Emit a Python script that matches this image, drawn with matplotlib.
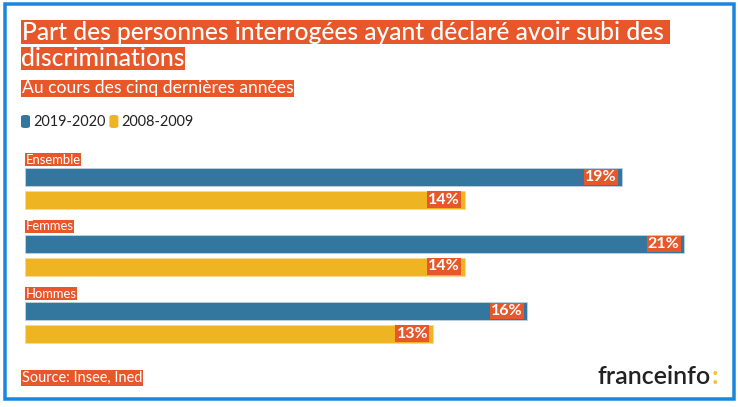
import matplotlib
matplotlib.use("Agg")
import matplotlib.pyplot as plt
from matplotlib.patches import Rectangle, FancyBboxPatch

plt.rcParams['font.family'] = ['Lato', 'DejaVu Sans']

categories = ["Ensemble", "Femmes", "Hommes"]
series_names = ["2019-2020", "2008-2009"]
values_2019 = [19, 21, 16]
values_2008 = [14, 14, 13]

title_lines = ["Part des personnes interrogées ayant déclaré avoir subi des ", "discriminations"]
subtitle = "Au cours des cinq dernières années"
source = "Source: Insee, Ined"

BLUE = "#33779F"
YELLOW = "#EFB421"
ORANGE = "#E8572A"
FRAME = "#1B86E0"

W, H = 738, 407
fig = plt.figure(figsize=(W / 100, H / 100), dpi=100)
renderer = fig.canvas.get_renderer()


def fx(x):
    return x / W


def fy(y):
    return 1 - y / H


def pt(px):
    return px * 72 / 100


# frame
fig.patches.append(Rectangle((fx(4.5), fy(399)), 729 / W, 395.5 / H,
                             transform=fig.transFigure, fill=False,
                             edgecolor=FRAME, linewidth=pt(3.5)))

# title / subtitle, each line with its own box
for k, line in enumerate(title_lines):
    fig.text(fx(21.5), fy(32 + 26.5 * k), line, color="white", fontsize=pt(24.6), va="center",
             ha="left", fontweight="medium",
             bbox=dict(facecolor=ORANGE, edgecolor="none", pad=0.4))
fig.text(fx(21.5), fy(88.5), subtitle, color="white", fontsize=pt(17.5), va="center", ha="left",
         bbox=dict(facecolor=ORANGE, edgecolor="none", pad=0.5))

# legend
lx = 21
for name, col in zip(series_names, [BLUE, YELLOW]):
    fig.patches.append(FancyBboxPatch((fx(lx), fy(128)), 9 / W, 13 / H,
                                      boxstyle="round,pad=0.0,rounding_size=0.005",
                                      transform=fig.transFigure, facecolor=col,
                                      edgecolor="none"))
    t = fig.text(fx(lx + 12), fy(121.5), name, fontsize=pt(14.5), va="center", ha="left",
                 color="#222222")
    bb = t.get_window_extent(renderer)
    lx = bb.x1 + 4

# bars
ax = fig.add_axes([fx(25), fy(350), 690 / W, 200 / H])
ax.set_xlim(0, 690 / 31.4)
ax.set_ylim(350, 150)
ax.axis("off")

bar_h = 18
for i, cat in enumerate(categories):
    yb = 177 + 67 * i
    yy = yb + 22.5
    ax.barh(yb, values_2019[i], height=bar_h, color=BLUE, edgecolor="#BFD3E0", linewidth=0.6)
    ax.barh(yy, values_2008[i], height=bar_h, color=YELLOW, edgecolor="#F6DB95", linewidth=0.6)
    ax.text(0.02, yb - bar_h / 2 - 2.5, cat, color="white", fontsize=pt(13), ha="left",
            va="bottom", bbox=dict(facecolor=ORANGE, edgecolor="none", pad=0.5))
    for v, y in [(values_2019[i], yb), (values_2008[i], yy)]:
        ax.annotate(f"{v}%", (v, y), xytext=(-5, 0), textcoords="offset pixels",
                    ha="right", va="center", color="white", fontsize=pt(16),
                    fontweight="bold",
                    bbox=dict(facecolor=ORANGE, edgecolor="none", pad=0.8))

# source
fig.text(fx(22), fy(378), source, color="white", fontsize=pt(14.5), va="center", ha="left",
         bbox=dict(facecolor=ORANGE, edgecolor="none", pad=0.6))

# logo
fig.text(fx(711), fy(376), "franceinfo", color="#222222", fontsize=pt(25),
         fontweight="semibold", ha="right", va="center")
fig.text(fx(712), fy(376), ":", color="#F5C12E", fontsize=pt(25), fontweight="bold",
         ha="left", va="center")

fig.savefig("out.png", dpi=100, facecolor="white")
